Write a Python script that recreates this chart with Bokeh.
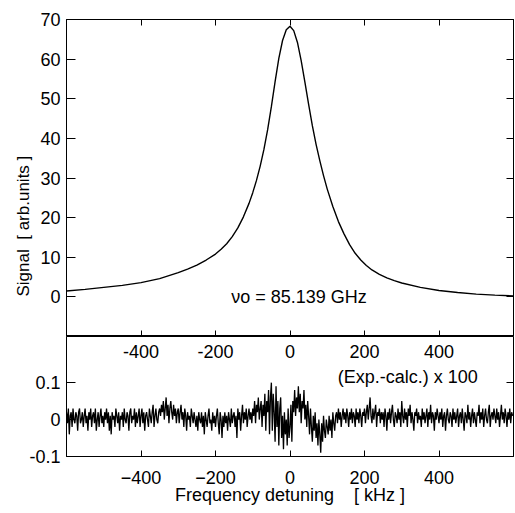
import numpy as np
from bokeh.plotting import figure
from bokeh.layouts import column
from bokeh.models import LinearAxis, FixedTicker, Range1d, Title
from bokeh.core.properties import value
from bokeh.embed import file_html
from bokeh.resources import INLINE

FONT = "Liberation Sans"
FS = "18px"

sig_x = [-600, -550, -500, -450, -400, -350, -300, -275, -250, -225, -200, -185, -170, -155,
         -140, -125, -110, -100, -90, -80, -70, -60, -50, -40, -30, -20, -10, 0,
         10, 20, 30, 40, 50, 60, 70, 80, 90, 100, 115, 130, 145, 160, 175, 190,
         205, 220, 240, 260, 280, 300, 350, 400, 450, 500, 550, 600]
sig_y = [1.5, 1.9, 2.4, 2.9, 3.6, 4.6, 6.1, 7.0, 8.0, 9.3, 10.8, 12.0, 13.4, 15.2,
         17.4, 20.2, 23.6, 26.3, 29.4, 33.0, 37.2, 42.2, 48.0, 54.3, 60.2, 64.7, 67.4, 68.3,
         67.2, 64.2, 59.6, 54.2, 48.6, 43.2, 38.5, 34.4, 30.6, 27.2, 22.8, 19.0, 15.9, 13.2, 11.0, 9.3,
         7.9, 6.8, 5.7, 4.8, 4.1, 3.5, 2.4, 1.6, 1.1, 0.7, 0.45, 0.25]

# ---- bottom panel: residual (Exp.-calc.) x 100 ----
res_start, res_step = -600, 2.5
residual = [
    0.02, -0.01, 0.03, -0.04, 0.01, 0.02, -0.02, 0.03, 0.00, -0.01, 0.02, 0.01, -0.03, 0.02, 0.03, -0.01, 0.00, 0.02, -0.02, 0.01,
    0.03, -0.01, 0.01, -0.03, 0.02, 0.00, 0.03, -0.02, 0.01, 0.02, -0.01, 0.03, -0.03, 0.00, 0.02, -0.02, 0.01, 0.03, -0.01, 0.01,
    -0.02, 0.02, 0.00, 0.03, -0.01, 0.02, -0.03, 0.01, -0.04, 0.02, 0.00, 0.01, -0.02, 0.03, 0.01, -0.01, 0.02, -0.03, 0.01, 0.00,
    0.02, -0.02, 0.03, 0.00, -0.01, 0.02, 0.01, -0.03, 0.02, 0.03, -0.01, 0.01, 0.00, 0.03, -0.02, 0.02, -0.01, 0.01, 0.03, -0.02,
    0.01, 0.03, -0.01, 0.02, -0.03, 0.01, 0.02, 0.00, -0.02, 0.03, 0.01, -0.01, 0.02, 0.04, -0.02, 0.01, 0.03, 0.00, -0.01, 0.02,
    0.03, 0.01, 0.04, 0.02, 0.05, 0.00, 0.03, 0.06, 0.01, 0.04, -0.01, 0.03, 0.05, 0.02, 0.00, 0.04, 0.01, 0.03, -0.01, 0.02,
    0.03, -0.01, 0.02, 0.04, 0.00, 0.02, -0.02, 0.03, 0.01, -0.03, 0.02, 0.00, 0.01, -0.02, 0.03, 0.01, -0.01, 0.02, 0.00, -0.02,
    0.01, -0.03, 0.02, 0.00, -0.01, 0.02, -0.02, 0.01, -0.04, 0.02, 0.00, -0.02, 0.01, 0.03, -0.01, 0.00, -0.03, 0.02, -0.01, 0.01,
    -0.02, 0.01, 0.03, -0.01, -0.04, 0.02, 0.00, -0.05, 0.01, -0.02, 0.02, -0.01, 0.01, -0.03, 0.02, 0.00, -0.02, 0.03, -0.01, 0.01,
    0.02, -0.02, 0.01, -0.05, 0.03, 0.00, 0.02, -0.03, 0.01, 0.04, -0.01, 0.02, 0.00, 0.03, -0.02, 0.01, 0.03, 0.00, 0.02, -0.01,
    0.03, 0.01, 0.05, -0.01, 0.04, 0.02, 0.06, 0.00, 0.03, 0.05, -0.02, 0.04, 0.01, 0.07, -0.03, 0.05, 0.02, 0.08, -0.04, 0.06,
    0.10, -0.03, 0.07, 0.02, -0.06, 0.09, -0.02, 0.05, -0.07, 0.03, 0.06, -0.05, 0.01, -0.08, 0.02, -0.04, 0.00, -0.07, 0.03, -0.05,
    -0.02, 0.04, -0.06, 0.05, 0.02, 0.08, 0.01, 0.06, 0.03, 0.09, 0.02, 0.07, -0.01, 0.05, 0.03, 0.08, 0.00, 0.04, -0.02, 0.05,
    0.01, -0.04, 0.03, -0.02, -0.06, 0.01, -0.03, 0.02, -0.05, -0.01, -0.07, 0.00, -0.04, -0.09, -0.01, -0.06, 0.01, -0.03, -0.05, 0.00,
    -0.02, -0.04, 0.01, -0.03, 0.00, -0.05, 0.02, -0.01, -0.03, 0.01, 0.02, -0.01, 0.03, 0.00, 0.02, -0.02, 0.01, 0.03, 0.00, 0.02,
    -0.01, 0.03, 0.01, -0.02, 0.02, 0.00, 0.03, -0.01, 0.02, 0.01, -0.02, 0.03, 0.00, 0.02, -0.01, 0.03, 0.01, -0.02, 0.02, 0.01,
    0.03, -0.01, 0.02, 0.04, 0.00, 0.03, 0.06, 0.01, -0.01, 0.03, 0.00, 0.02, 0.04, -0.02, 0.02, 0.01, 0.03, -0.01, 0.02, 0.00,
    0.02, -0.02, 0.03, 0.01, -0.03, 0.02, 0.00, 0.03, -0.01, 0.02, 0.04, 0.00, -0.02, 0.02, 0.01, -0.01, 0.03, 0.00, 0.02, -0.02,
    0.05, 0.01, -0.01, 0.03, 0.00, 0.02, -0.02, 0.03, 0.01, 0.04, -0.01, 0.02, 0.00, -0.03, 0.02, 0.01, 0.03, -0.01, 0.02, 0.00,
    0.01, -0.02, 0.03, 0.00, 0.02, -0.01, 0.01, 0.03, -0.02, 0.02, 0.00, 0.04, -0.01, 0.02, 0.01, -0.03, 0.02, 0.00, 0.03, 0.01,
    -0.01, 0.02, 0.00, 0.03, -0.02, 0.01, 0.02, -0.03, 0.01, 0.03, 0.00, -0.01, 0.02, 0.01, -0.02, 0.03, 0.00, 0.02, -0.01, 0.01,
    0.03, -0.02, 0.01, 0.02, -0.01, 0.03, 0.00, -0.03, 0.02, 0.01, -0.01, 0.04, 0.00, 0.02, -0.02, 0.01, 0.03, -0.01, 0.02, 0.00,
    -0.02, 0.02, 0.01, 0.04, -0.01, 0.02, 0.00, 0.03, -0.02, 0.01, 0.03, 0.00, -0.01, 0.02, 0.04, -0.02, 0.01, 0.02, 0.00, 0.03,
    0.01, -0.01, 0.03, 0.00, 0.02, -0.02, 0.01, 0.04, 0.00, 0.02, -0.01, 0.03, 0.01, -0.02, 0.02, 0.00, 0.03, -0.01, 0.02, 0.01,
]
res_x = [res_start + i * res_step for i in range(len(residual))]

x_ticks = [-400, -200, 0, 200, 400]
x_tick_labels = ["-400", "-200", "0", "200", "400"]
top_y_ticks = [0, 10, 20, 30, 40, 50, 60, 70]
bot_y_ticks = [-0.1, 0, 0.1]
bot_y_labels = {-0.1: "-0.1", 0: "0", 0.1: "0.1"}

def style_axis(ax, ticks, tick_in, show_labels=True):
    ax.ticker = FixedTicker(ticks=ticks)
    ax.major_tick_in = tick_in
    ax.major_tick_out = 0
    ax.minor_tick_in = 0
    ax.minor_tick_out = 0
    ax.axis_line_color = "black"
    ax.major_tick_line_color = "black"
    ax.major_label_text_font = FONT
    ax.major_label_text_font_size = FS
    ax.major_label_text_color = "black"
    if not show_labels:
        ax.major_label_text_font_size = "0px"
        ax.major_label_standoff = 0
        ax.major_label_text_alpha = 0

# ---- top figure ----
top = figure(width=514, height=336, output_backend="svg", toolbar_location=None,
             x_range=Range1d(-600, 600), y_range=Range1d(-10, 70),
             min_border_left=66, min_border_right=1, min_border_top=19, min_border_bottom=0)
top.grid.visible = False
top.outline_line_color = "black"
top.background_fill_color = "white"
top.border_fill_color = "white"
style_axis(top.xaxis[0], x_ticks, 6, show_labels=False)
style_axis(top.yaxis[0], top_y_ticks, 9)
top.yaxis[0].major_label_standoff = 6
ax_top = LinearAxis()
style_axis(ax_top, x_ticks, 6, show_labels=False)
top.add_layout(ax_top, "above")
ax_right = LinearAxis()
style_axis(ax_right, top_y_ticks, 7, show_labels=False)
top.add_layout(ax_right, "right")

top.line(sig_x, sig_y, line_color="black", line_width=1.4)
top.text(x=[-158], y=[0], text=["\u03bdo = 85.139 GHz"], text_font=value(FONT),
         text_font_size=value(FS), text_align="left", text_baseline="middle", text_color="black")

ylab = Title(text="Signal\u00a0\u00a0[ arb.units ]", align="left", offset=40,
             text_font=FONT, text_font_size="17px", text_font_style="normal", text_color="black")
top.add_layout(ylab, "left")

# ---- bottom figure ----
bot = figure(width=514, height=175, output_backend="svg", toolbar_location=None,
             x_range=Range1d(-600, 600), y_range=Range1d(-0.1, 0.225),
             min_border_left=66, min_border_right=1, min_border_top=0, min_border_bottom=55)
bot.grid.visible = False
bot.outline_line_color = "black"
bot.background_fill_color = "white"
bot.border_fill_color = "white"
style_axis(bot.xaxis[0], x_ticks, 6)
bot.xaxis[0].major_label_standoff = 14
bot.xaxis[0].axis_label = "Frequency detuning\u00a0\u00a0\u00a0\u00a0[ kHz ]"
bot.xaxis[0].axis_label_text_font = FONT
bot.xaxis[0].axis_label_text_font_size = FS
bot.xaxis[0].axis_label_text_font_style = "normal"
bot.xaxis[0].axis_label_text_color = "black"
bot.xaxis[0].axis_label_standoff = -2
style_axis(bot.yaxis[0], bot_y_ticks, 9)
bot.yaxis[0].major_label_overrides = bot_y_labels
bot.yaxis[0].major_label_standoff = 6
ax_r2 = LinearAxis()
style_axis(ax_r2, [0.1], 7, show_labels=False)
bot.add_layout(ax_r2, "right")

bot.line(res_x, residual, line_color="black", line_width=1.3)
bot.text(x=x_ticks, y=[0.185] * len(x_ticks), text=x_tick_labels, text_font=value(FONT),
         text_font_size=value(FS), text_align="center", text_baseline="middle", text_color="black")
bot.text(x=[128], y=[0.114], text=["(Exp.-calc.) x 100"], text_font=value(FONT),
         text_font_size=value(FS), text_align="left", text_baseline="middle", text_color="black")

layout = column(top, bot, spacing=0)
open("out.html", "w").write(file_html(layout, INLINE))
